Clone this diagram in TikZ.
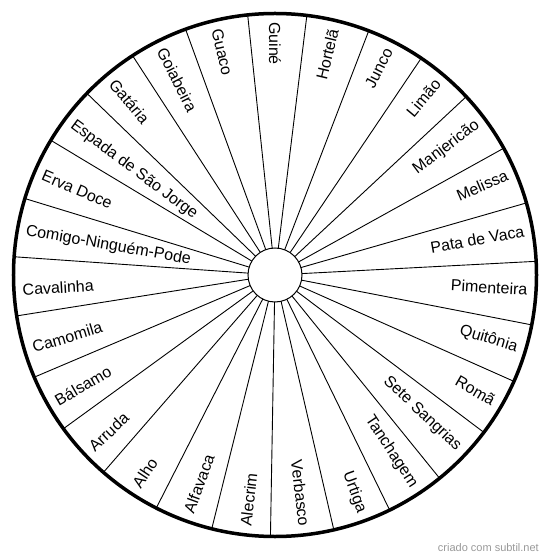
\documentclass[tikz,border=0pt]{standalone}
\usepackage{fontspec}
\setmainfont{Liberation Sans}

\begin{document}
\begin{tikzpicture}[x=1pt,y=1pt,
                    every node/.style={inner sep=0pt,font=\fontsize{16}{19}\selectfont},
                    spoke/.style={line width=0.9pt}]
  \useasboundingbox (-275,-284) rectangle (275,275);
  % wheel
  \node[draw,circle,line width=3.5pt,minimum size=523pt,outer sep=0pt] (rim) at (0,0) {};
  % spokes
  \foreach \k [evaluate=\k as \ang using {96.667+13.333*\k}] in {0,...,26}
    \draw[spoke] (rim.\ang) -- (0,0);
  \node[draw,circle,fill=white,line width=1pt,minimum size=54pt] (hub) at (0,0) {};
  % labels
  \foreach \name [count=\k from 0, evaluate=\k as \ang using {-96.667-13.333*\k}] in
    {Alecrim, Alfavaca, Alho, Arruda, Bálsamo, Camomila, Cavalinha,
     Comigo-Ninguém-Pode, Erva Doce, Espada de São Jorge, Gatária, Goiabeira,
     Guaco, Guiné, Hortelã, Junco, Limão, Manjericão, Melissa, Pata de Vaca,
     Pimenteira, Quitônia, Romã, Sete Sangrias, Tanchagem, Urtiga, Verbasco}{
    \pgfmathtruncatemacro\flip{cos(\ang)<0.01 ? 1 : 0}
    \ifnum\flip=1
      \node[rotate=\ang+180,anchor=west] (lab\k) at (\ang:253) {\name};
    \else
      \node[rotate=\ang,anchor=east] (lab\k) at (\ang:253) {\name};
    \fi
  }
  % credit
  \node[anchor=east,text=black!40,font=\fontsize{11}{13}\selectfont] (credit) at (264,-273) {criado com subtil.net};
\end{tikzpicture}
\end{document}
